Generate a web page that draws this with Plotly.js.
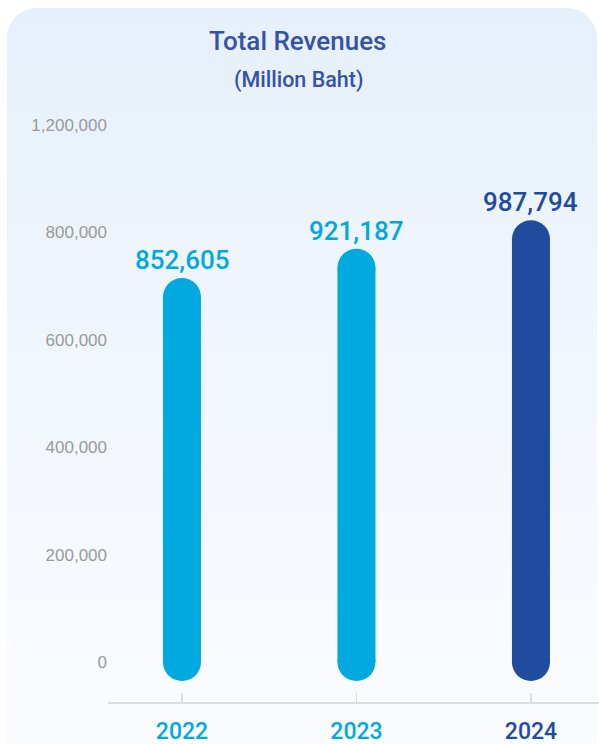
<!DOCTYPE html>
<html>
<head>
<meta charset="utf-8">
<script src="https://cdn.plot.ly/plotly-3.0.1.min.js"></script>
<style>
  html, body { margin: 0; padding: 0; background: #ffffff; }
  #wrap { position: relative; width: 599px; height: 744px; overflow: hidden; background: #ffffff; }
  #card { position: absolute; left: 7px; top: 8px; width: 590px; height: 780px;
          border-radius: 30px; background: linear-gradient(to bottom, #e6f0fa 0%, #f2f7fd 50%, #fbfcff 100%); }
  #chart { position: absolute; left: 0; top: 0; width: 599px; height: 744px; }
</style>
</head>
<body>
<div id="wrap">
  <div id="card"></div>
  <div id="chart"></div>
</div>
<script>
// ---- data ----
const years = ['2022', '2023', '2024'];
const revenues = [852605, 921187, 987794];
const yearColors = ['#00a9e0', '#00a9e0', '#1f4c9e'];
const yTickLabels = ['0', '200,000', '400,000', '600,000', '800,000', '1,200,000'];

// ---- layout constants ----
const tickStep = 251000;
const barWidthPx = 38;
const fontFamily = 'Liberation Sans, Arial, Helvetica, sans-serif';
const mediumFamily = 'Roboto, Liberation Sans, Arial, sans-serif';
const plotTop = 100, plotBottom = 702;

const traces = years.map((yr, i) => ({
  type: 'scatter',
  mode: 'lines+markers',
  x: [yr, yr],
  y: [0, revenues[i]],
  line: { color: yearColors[i], width: barWidthPx },
  marker: { color: yearColors[i], size: barWidthPx, line: { width: 0 } },
  cliponaxis: false,
  hoverinfo: 'skip',
  showlegend: false
}));

const fmt = v => v.toLocaleString('en-US');

const annotations = years.map((yr, i) => ({
  x: i, y: revenues[i], xref: 'x', yref: 'y',
  text: fmt(revenues[i]),
  showarrow: false,
  yanchor: 'bottom',
  yshift: 20,
  font: { family: mediumFamily, size: 26, color: yearColors[i], weight: 500 }
}));

annotations.push({
  xref: 'paper', yref: 'paper',
  x: (298 - 108) / 491, y: (plotBottom - 80) / (plotBottom - plotTop),
  text: '(Million Baht)',
  showarrow: false,
  xanchor: 'center',
  yanchor: 'middle',
  font: { family: mediumFamily, size: 21.5, color: '#3552a6', weight: 500 }
});

const layout = {
  width: 599, height: 744,
  margin: { l: 108, r: 0, t: plotTop, b: 744 - plotBottom },
  paper_bgcolor: 'rgba(0,0,0,0)',
  plot_bgcolor: 'rgba(0,0,0,0)',
  title: {
    text: 'Total Revenues',
    x: 0.497, xref: 'container', xanchor: 'center',
    y: 1 - 41 / 744, yref: 'container', yanchor: 'middle',
    font: { family: mediumFamily, size: 26, color: '#3552a6', weight: 500 }
  },
  xaxis: {
    type: 'category',
    range: [-0.424, 2.39],
    tickvals: years,
    ticktext: years.map((yr, i) => '<span style="color:' + yearColors[i] + '">' + yr + '</span>'),
    tickfont: { family: mediumFamily, size: 23, color: '#00a9e0', weight: 500 },
    showline: true, linecolor: '#dddddd', linewidth: 2,
    ticks: 'inside', ticklen: 9, tickwidth: 1.5, tickcolor: '#dddddd',
    ticklabelstandoff: 7,
    showgrid: false, zeroline: false, fixedrange: true
  },
  yaxis: {
    range: [-93500, 1313000],
    tickmode: 'array',
    tickvals: yTickLabels.map((_, i) => i * tickStep),
    ticktext: yTickLabels,
    tickfont: { family: fontFamily, size: 17, color: '#9a9a9a' },
    showgrid: false, zeroline: false, showline: false, ticks: '',
    fixedrange: true
  },
  annotations: annotations
};

Plotly.newPlot('chart', traces, layout, { displayModeBar: false, staticPlot: true });
</script>
</body>
</html>
